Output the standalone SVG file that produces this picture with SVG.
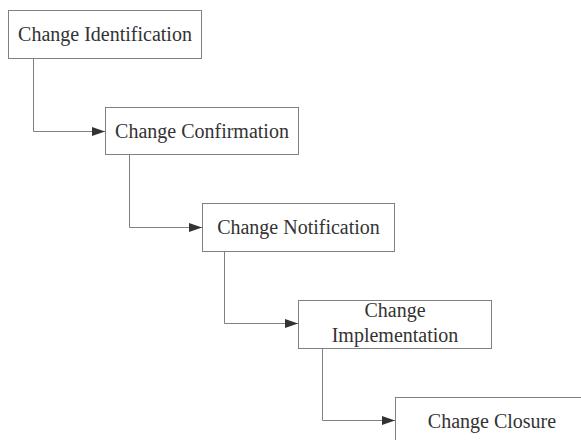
<svg xmlns="http://www.w3.org/2000/svg" width="581" height="440" viewBox="0 0 581 440">
<style>
.box{fill:#fff;stroke:#808080;stroke-width:1}
.lbl{font-family:"Liberation Serif","Times New Roman",serif;font-size:20px;fill:#333;text-anchor:middle}
.con{fill:none;stroke:#808080;stroke-width:1}
</style>
<defs>
<marker id="arr" markerUnits="userSpaceOnUse" markerWidth="14" markerHeight="10" refX="13" refY="4.5" orient="auto">
<path d="M0,0 L13,4.5 L0,9 z" fill="#333"/>
</marker>
</defs>
<rect width="581" height="440" fill="#fff"/>
<g id="connectors">
<path class="con" d="M33.5,58.5 V131.5 H105" marker-end="url(#arr)"/>
<path class="con" d="M129.5,154.5 V227.5 H202" marker-end="url(#arr)"/>
<path class="con" d="M224.5,251.5 V323.5 H298" marker-end="url(#arr)"/>
<path class="con" d="M322.5,348.5 V420.5 H395" marker-end="url(#arr)"/>
</g>
<g id="n1">
<rect class="box" x="8.5" y="10.5" width="193" height="48"/>
<text class="lbl" x="105" y="41">Change Identification</text>
</g>
<g id="n2">
<rect class="box" x="105.5" y="107.5" width="193" height="47"/>
<text class="lbl" x="202" y="138">Change Confirmation</text>
</g>
<g id="n3">
<rect class="box" x="202.5" y="203.5" width="192" height="48"/>
<text class="lbl" x="298.5" y="234">Change Notification</text>
</g>
<g id="n4">
<rect class="box" x="298.5" y="300.5" width="193" height="48"/>
<text class="lbl" x="395" y="317">Change</text>
<text class="lbl" x="395" y="342">Implementation</text>
</g>
<g id="n5">
<rect class="box" x="395.5" y="397.5" width="193" height="48"/>
<text class="lbl" x="492" y="428">Change Closure</text>
</g>
</svg>
